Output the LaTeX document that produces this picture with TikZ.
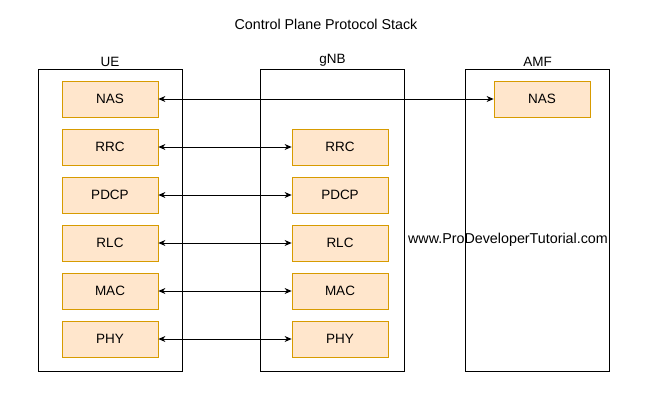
\documentclass[tikz,border=0pt]{standalone}
\usepackage{fontspec}
\setmainfont{Liberation Sans}
\usetikzlibrary{arrows.meta}
\definecolor{lfill}{HTML}{FFE6CC}
\definecolor{lstroke}{HTML}{D79B00}
\begin{document}
\begin{tikzpicture}[x=1pt,y=-1pt,
  col/.style={draw=black,line width=0.8pt,minimum width=144pt,minimum height=302pt,inner sep=0pt},
  lay/.style={draw=lstroke,fill=lfill,line width=0.8pt,minimum width=96pt,minimum height=36pt,inner sep=0pt,font=\fontsize{13.5}{16}\selectfont},
  lbl/.style={font=\fontsize{13.5}{16}\selectfont,inner sep=0pt},
  conn/.style={{Stealth[length=7pt,width=6pt]}-{Stealth[length=7pt,width=6pt]},line width=0.8pt}]
\useasboundingbox (0,0) rectangle (645,413);
\node[lbl,font=\fontsize{14.3}{17}\selectfont] (title) at (326,24) {Control Plane Protocol Stack};
\node[col] (ue) at (110,220) {};
\node[col] (gnb) at (332.5,220) {};
\node[col] (amf) at (537.5,220) {};
\node[lbl,anchor=south] (uel) at ([yshift=2pt]ue.north) {UE};
\node[lbl,anchor=south] (gnbl) at ([yshift=2pt]gnb.north) {gNB};
\node[lbl,anchor=south] (amfl) at ([yshift=2pt]amf.north) {AMF};
\node[lay] (unas) at (110,99) {NAS};
\node[lay] (urrc) at (110,147) {RRC};
\node[lay] (updcp) at (110,195) {PDCP};
\node[lay] (urlc) at (110,243) {RLC};
\node[lay] (umac) at (110,291) {MAC};
\node[lay] (uphy) at (110,339) {PHY};
\node[lay] (grrc) at (340,147) {RRC};
\node[lay] (gpdcp) at (340,195) {PDCP};
\node[lay] (grlc) at (340,243) {RLC};
\node[lay] (gmac) at (340,291) {MAC};
\node[lay] (gphy) at (340,339) {PHY};
\node[lay] (anas) at (542,99) {NAS};
\node[lbl,font=\fontsize{14.3}{17}\selectfont] (wm) at (508,240) {www.ProDeveloperTutorial.com};
\draw[conn] (unas) -- (anas);
\draw[conn] (urrc) -- (grrc);
\draw[conn] (updcp) -- (gpdcp);
\draw[conn] (urlc) -- (grlc);
\draw[conn] (umac) -- (gmac);
\draw[conn] (uphy) -- (gphy);
\end{tikzpicture}
\end{document}
